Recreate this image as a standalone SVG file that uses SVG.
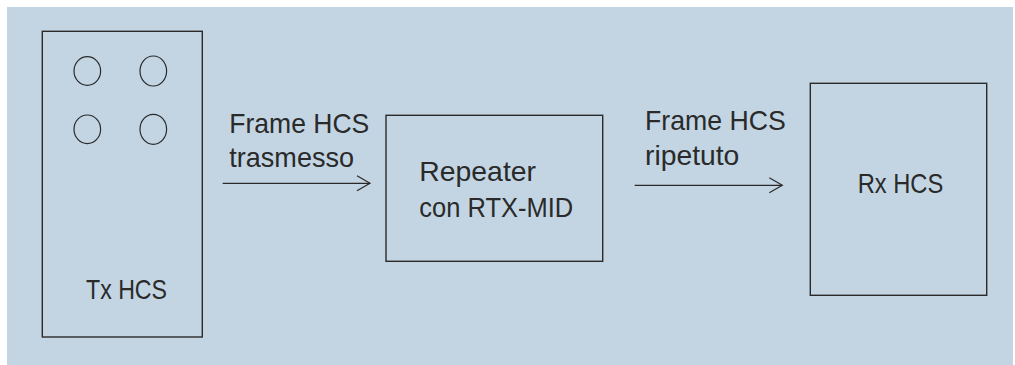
<svg xmlns="http://www.w3.org/2000/svg" width="1015" height="365" viewBox="0 0 1015 365">
  <defs>
    <style>
      .box { fill: none; stroke: #2a2a2a; stroke-width: 1.4; }
      .led { fill: none; stroke: #2a2a2a; stroke-width: 1.2; }
      .wire { fill: none; stroke: #2a2a2a; stroke-width: 1.2; }
      .lbl { font-family: "Liberation Sans", Arial, sans-serif; font-size: 28.5px; fill: #2a2a2a; }
    </style>
    <marker id="open-arrow" markerUnits="userSpaceOnUse" markerWidth="16" markerHeight="18" refX="14" refY="8" orient="auto">
      <path d="M1,0.5 L14,8 L1,15.5" fill="none" stroke="#2a2a2a" stroke-width="1.2"/>
    </marker>
  </defs>

  <rect x="0" y="0" width="1015" height="365" fill="#ffffff"/>
  <rect x="7" y="7" width="1006" height="358" fill="#c3d5e3"/>

  <g id="tx-hcs">
    <rect class="box" x="42.3" y="31.3" width="160" height="305.7"/>
    <ellipse class="led" cx="87.3" cy="71" rx="13.3" ry="14.3"/>
    <ellipse class="led" cx="153.3" cy="71" rx="13.3" ry="15"/>
    <ellipse class="led" cx="87.3" cy="129.3" rx="13.3" ry="14.3"/>
    <ellipse class="led" cx="153.3" cy="129.3" rx="13.3" ry="15"/>
    <text class="lbl" x="86" y="299" textLength="81" lengthAdjust="spacingAndGlyphs">Tx HCS</text>
  </g>

  <g id="repeater">
    <rect class="box" x="386" y="115.3" width="216.7" height="146"/>
    <text class="lbl" x="419.3" y="180.7" textLength="116.7" lengthAdjust="spacingAndGlyphs">Repeater</text>
    <text class="lbl" x="419.3" y="216.7" textLength="154" lengthAdjust="spacingAndGlyphs">con RTX-MID</text>
  </g>

  <g id="rx-hcs">
    <rect class="box" x="810.3" y="83.3" width="176.4" height="212"/>
    <text class="lbl" x="857.7" y="193.3" textLength="85.6" lengthAdjust="spacingAndGlyphs">Rx HCS</text>
  </g>

  <g id="connectors">
    <line class="wire" x1="222.7" y1="183.3" x2="370" y2="183.3" marker-end="url(#open-arrow)"/>
    <text class="lbl" x="229.3" y="132.7" textLength="140" lengthAdjust="spacingAndGlyphs">Frame HCS</text>
    <text class="lbl" x="229.3" y="167.3" textLength="124.7" lengthAdjust="spacingAndGlyphs">trasmesso</text>
    <line class="wire" x1="634.7" y1="185.3" x2="782.3" y2="185.3" marker-end="url(#open-arrow)"/>
    <text class="lbl" x="645" y="130" textLength="140.7" lengthAdjust="spacingAndGlyphs">Frame HCS</text>
    <text class="lbl" x="645" y="165" textLength="94.3" lengthAdjust="spacingAndGlyphs">ripetuto</text>
  </g>
</svg>
